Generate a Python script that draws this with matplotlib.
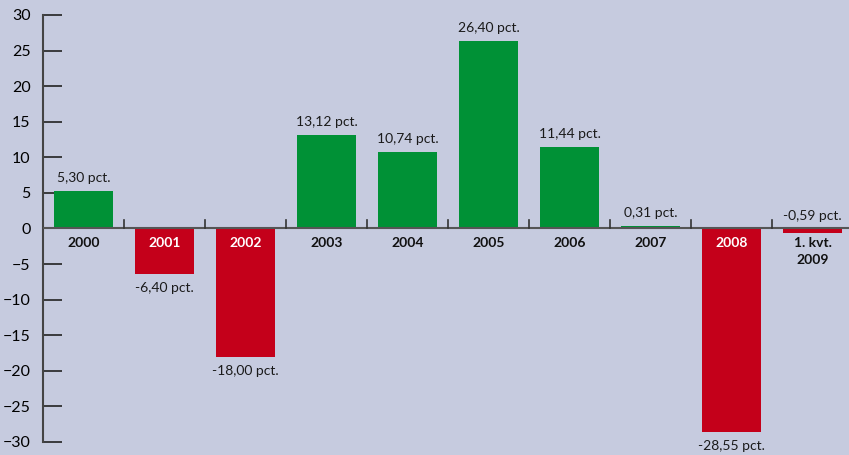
import matplotlib.pyplot as plt
import numpy as np

plt.rcParams['font.family'] = ['Lato', 'DejaVu Sans']

categories = ['2000', '2001', '2002', '2003', '2004', '2005', '2006', '2007', '2008', '1. kvt.\n2009']
values = [5.30, -6.40, -18.00, 13.12, 10.74, 26.40, 11.44, 0.31, -28.55, -0.59]
value_labels = ['5,30 pct.', '-6,40 pct.', '-18,00 pct.', '13,12 pct.', '10,74 pct.',
                '26,40 pct.', '11,44 pct.', '0,31 pct.', '-28,55 pct.', '-0,59 pct.']

bg = '#c6cbdf'
green = '#009136'
red = '#c4001a'

fig = plt.figure(figsize=(8.49, 4.55), dpi=100, facecolor=bg)
ax = fig.add_axes([0.0506, 0.0286, 0.9494, 0.9385], facecolor=bg)

x = np.arange(len(values))
colors = [green if v >= 0 else red for v in values]
ax.bar(x, values, width=0.73, color=colors, zorder=2)

ax.set_xlim(-0.5, 9.45)
ax.set_ylim(-30, 30)
ax.set_yticks(np.arange(-30, 31, 5))
ax.tick_params(axis='y', direction='in', length=14, width=1.2, color='#222222',
               labelsize=11.5, pad=9)
ax.set_xticks([])

for s in ['top', 'right', 'bottom']:
    ax.spines[s].set_visible(False)
ax.spines['left'].set_color('#444444')
ax.spines['left'].set_linewidth(1.5)

# zero line and category separators
ax.axhline(0, color='#555555', lw=1.5, zorder=3)
for i in range(len(values) - 1):
    ax.plot([i + 0.5, i + 0.5], [0, 1.2], color='#333333', lw=1.2, zorder=3)

for i, (v, lab, cat) in enumerate(zip(values, value_labels, categories)):
    if v >= 0 or abs(v) < 1:
        ax.annotate(lab, (i, max(v, 0)), xytext=(0, 5), textcoords='offset points',
                    ha='center', va='bottom', fontsize=10, color='#1a1a1a')
    else:
        ax.annotate(lab, (i, v), xytext=(0, -6), textcoords='offset points',
                    ha='center', va='top', fontsize=10, color='#1a1a1a')
    tc = 'white' if v < -3 else '#111111'
    ax.annotate(cat, (i, 0), xytext=(0, -6), textcoords='offset points',
                ha='center', va='top', fontsize=10, fontweight='bold', color=tc,
                linespacing=1.5, zorder=4)

fig.savefig('out.png', dpi=100, facecolor=bg)
